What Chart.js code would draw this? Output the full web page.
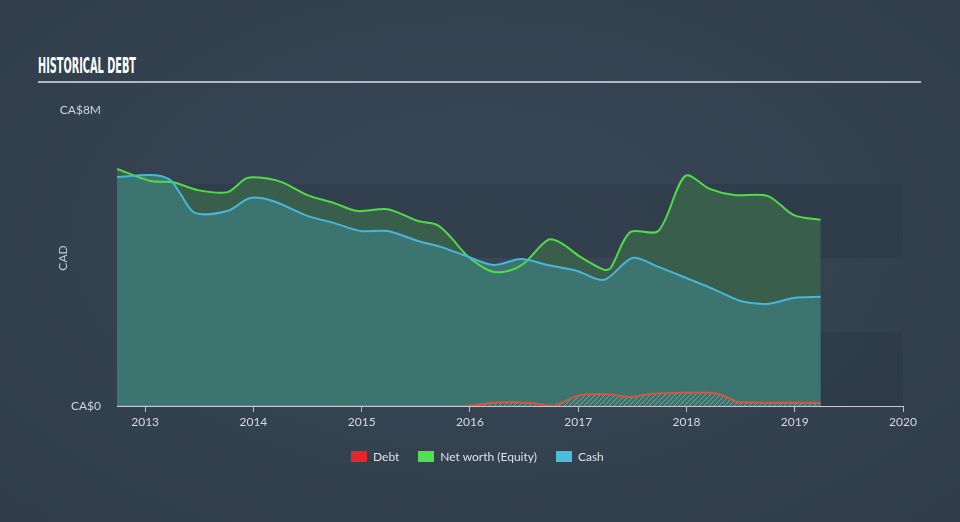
<!DOCTYPE html>
<html>
<head>
<meta charset="utf-8">
<script src="https://cdn.jsdelivr.net/npm/chart.js@4/dist/chart.umd.min.js"></script>
<style>
  html, body { margin: 0; padding: 0; }
  body {
    width: 960px; height: 522px; overflow: hidden; position: relative;
    background: radial-gradient(ellipse at 50% 45%, #394757 0%, #34414f 55%, #303c4a 100%);
    font-family: Lato, "Open Sans", sans-serif;
  }
  #title {
    position: absolute; left: 38px; top: 55px;
    font-family: "Liberation Sans Narrow", "DejaVu Sans Condensed", sans-serif;
    font-weight: bold; font-size: 21px; color: #ffffff;
    transform-origin: left top; white-space: nowrap; line-height: 22px;
  }
  #rule { position: absolute; left: 38px; top: 81px; width: 883px; height: 2px; background: #b3b8be; }
  #chart { position: absolute; left: 0; top: 0; }
  #legend {
    position: absolute; left: 351px; top: 449px; display: flex; align-items: center;
    font-size: 12px; color: #dde1e5;
  }
  .item { display: flex; align-items: center; margin-right: 19px; }
  .box { width: 16px; height: 11px; margin-right: 6px; }
</style>
</head>
<body>
<div id="title">HISTORICAL DEBT</div>
<div id="rule"></div>
<canvas id="chart" width="960" height="522"></canvas>
<div id="legend">
  <div class="item"><span class="box" style="background:#e8262a"></span>Debt</div>
  <div class="item"><span class="box" style="background:#4fe050"></span>Net worth (Equity)</div>
  <div class="item"><span class="box" style="background:#48bde0"></span>Cash</div>
</div>
<script>
// values in CA$ millions, dates as fractional years
const netWorthDates = [2012.74, 2013.05, 2013.26, 2013.48, 2013.76, 2013.94, 2014.13, 2014.28, 2014.50, 2014.74, 2014.96, 2015.24, 2015.52, 2015.70, 2015.82, 2015.98, 2016.19, 2016.35, 2016.50, 2016.72, 2016.84, 2017.02, 2017.24, 2017.30, 2017.48, 2017.74, 2017.99, 2018.22, 2018.44, 2018.75, 2018.99, 2019.24]
const netWorthValues = [6.41, 6.08, 6.05, 5.84, 5.78, 6.16, 6.15, 6.03, 5.70, 5.49, 5.27, 5.32, 5.00, 4.89, 4.57, 4.05, 3.65, 3.65, 3.86, 4.49, 4.41, 4.03, 3.68, 3.73, 4.70, 4.73, 6.22, 5.86, 5.70, 5.68, 5.16, 5.03]

const cashDates = [2012.74, 2013.07, 2013.23, 2013.32, 2013.46, 2013.76, 2013.97, 2014.18, 2014.50, 2014.74, 2014.99, 2015.24, 2015.52, 2015.73, 2015.94, 2016.22, 2016.47, 2016.72, 2016.99, 2017.24, 2017.50, 2017.74, 2018.04, 2018.25, 2018.50, 2018.75, 2018.99, 2019.24]
const cashValues = [6.19, 6.24, 6.11, 5.76, 5.22, 5.27, 5.62, 5.54, 5.14, 4.95, 4.73, 4.73, 4.46, 4.30, 4.08, 3.81, 3.97, 3.81, 3.65, 3.41, 4.00, 3.76, 3.41, 3.16, 2.84, 2.76, 2.92, 2.95]

const debtDates = [2012.74, 2015.95, 2016.19, 2016.35, 2016.56, 2016.77, 2016.96, 2017.05, 2017.27, 2017.48, 2017.64, 2017.88, 2018.25, 2018.41, 2018.47, 2019.24]
const debtValues = [0, 0, 0.08, 0.11, 0.08, 0.01, 0.24, 0.31, 0.32, 0.24, 0.32, 0.35, 0.35, 0.19, 0.11, 0.08]

const xTicks = [2013, 2014, 2015, 2016, 2017, 2018, 2019, 2020]
const yTicks = [0, 8]

function toPoints(dates, values) {
  return dates.map((d, i) => ({ x: d, y: values[i] }))
}

// fit the condensed title to its width
const title = document.getElementById("title")
title.style.transform = "scaleX(" + (98 / title.getBoundingClientRect().width) + ")"

const ctx = document.getElementById("chart").getContext("2d")

function makeHatch() {
  const c = document.createElement("canvas")
  c.width = 5
  c.height = 5
  const g = c.getContext("2d")
  g.strokeStyle = "rgba(185,185,185,0.55)"
  g.lineWidth = 1
  g.beginPath()
  g.moveTo(0, 5); g.lineTo(5, 0)
  g.moveTo(-1, 1); g.lineTo(1, -1)
  g.moveTo(4, 6); g.lineTo(6, 4)
  g.stroke()
  return ctx.createPattern(c, "repeat")
}

const bandsPlugin = {
  id: "bands",
  beforeDraw(chart) {
    const { ctx, chartArea, scales } = chart
    const y = scales.y
    ctx.save()
    ctx.fillStyle = "rgba(30,40,52,0.2)"
    ;[[0, 2], [4, 6]].forEach(([a, b]) => {
      const top = y.getPixelForValue(b)
      const bottom = y.getPixelForValue(a)
      ctx.fillRect(chartArea.left, top, chartArea.right - chartArea.left, bottom - top)
    })
    ctx.restore()
  },
}

const lineStyle = { borderWidth: 2, pointRadius: 0, tension: 0.3, fill: "origin" }

new Chart(ctx, {
  type: "line",
  data: {
    datasets: [
      {
        ...lineStyle,
        label: "Debt",
        data: toPoints(debtDates, debtValues),
        borderColor: "#d4573f",
        backgroundColor: makeHatch(),
        order: 0,
      },
      {
        ...lineStyle,
        label: "Cash",
        data: toPoints(cashDates, cashValues),
        borderColor: "#47b6da",
        backgroundColor: "#3c756f",
        order: 1,
      },
      {
        ...lineStyle,
        label: "Net worth (Equity)",
        data: toPoints(netWorthDates, netWorthValues),
        borderColor: "#4fdc47",
        backgroundColor: "#395f4c",
        order: 2,
      },
    ],
  },
  options: {
    responsive: false,
    animation: false,
    events: [],
    layout: { padding: { top: 110, right: 57, bottom: 0, left: 0 } },
    plugins: {
      legend: { display: false },
      tooltip: { enabled: false },
      filler: { drawTime: "beforeDatasetsDraw" },
    },
    scales: {
      x: {
        type: "linear",
        min: 2012.74,
        max: 2020,
        afterBuildTicks: (scale) => { scale.ticks = xTicks.map((v) => ({ value: v })) },
        afterFit: (scale) => {
          scale.height = 116
          scale.paddingLeft = 0
          scale.paddingRight = 0
        },
        ticks: {
          color: "#d6dade",
          font: { family: "Lato", size: 12 },
          padding: 3,
          maxRotation: 0,
          callback: (v) => String(v),
        },
        grid: { display: true, drawOnChartArea: false, drawTicks: true, tickLength: 6, color: "#b8bec5" },
        border: { display: true, color: "#c5cad0", width: 1 },
      },
      y: {
        min: 0,
        max: 8,
        afterBuildTicks: (scale) => { scale.ticks = yTicks.map((v) => ({ value: v })) },
        afterFit: (scale) => {
          scale.width = 117
          scale.paddingTop = 0
          scale.paddingBottom = 0
        },
        ticks: {
          color: "#d0d4d8",
          font: { family: "Lato", size: 12 },
          padding: 8,
          callback: (v) => (v === 0 ? "CA$0" : "CA$" + v + "M"),
        },
        grid: { display: false },
        border: { display: false },
        title: {
          display: true,
          text: "CAD",
          color: "#c8ccd1",
          font: { family: "Lato", size: 12 },
          padding: { top: 56, bottom: 0 },
        },
      },
    },
  },
  plugins: [bandsPlugin],
})
</script>
</body>
</html>
